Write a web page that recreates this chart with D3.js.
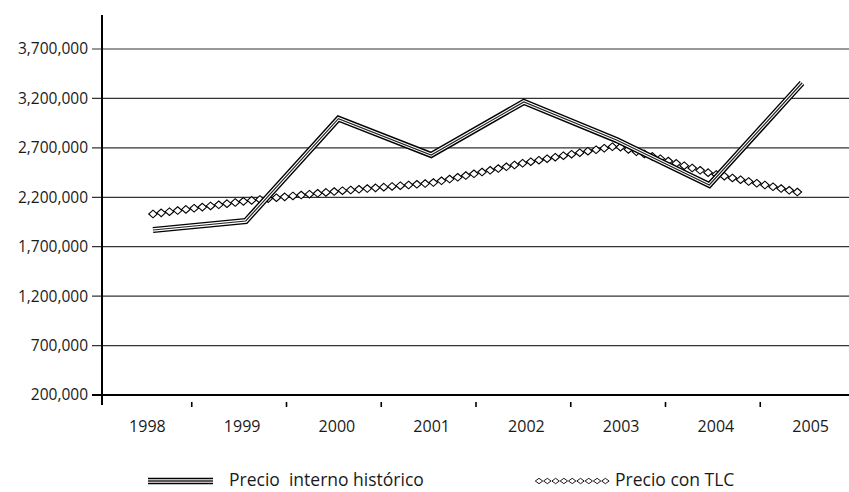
<!DOCTYPE html>
<html>
<head>
<meta charset="utf-8">
<script src="https://cdn.jsdelivr.net/npm/d3@7"></script>
<style>
  html, body { margin: 0; padding: 0; background: #fff; }
  svg { display: block; }
  text { font-family: "Open Sans", "DejaVu Sans", sans-serif; fill: #1a1a1a; }
</style>
</head>
<body>
<svg id="chart" width="849" height="492"></svg>
<script>
const years = ["1998", "1999", "2000", "2001", "2002", "2003", "2004", "2005"];
const precioHistorico = [1869000, 1960000, 2995000, 2628000, 3164000, 2779000, 2324000, 3356000];
const precioTLC = [2031000, 2162000, 2263000, 2344000, 2547000, 2719000, 2446000, 2243000];
const yTicks = [200000, 700000, 1200000, 1700000, 2200000, 2700000, 3200000, 3700000];
const legendLabels = ["Precio  interno histórico", "Precio con TLC"];

const svg = d3.select("#chart");
svg.append("rect").attr("width", 849).attr("height", 492).attr("fill", "#fff");

const y = d3.scaleLinear().domain([200000, 3700000]).range([395, 49]);
const xBand = d3.scaleBand().domain(years).range([100, 858]);
const xPt = d3.scalePoint().domain(years).range([153, 802]);

const fmt = d3.format(",");

// gridlines
svg.append("g").selectAll("line").data(yTicks).join("line")
  .attr("x1", 92).attr("x2", 849)
  .attr("y1", d => y(d)).attr("y2", d => y(d))
  .attr("stroke", d => d === 200000 ? "#000" : "#333")
  .attr("stroke-width", d => d === 200000 ? 2 : 1.2);

// y labels
svg.append("g").selectAll("text").data(yTicks).join("text")
  .attr("x", 88).attr("y", d => y(d)).attr("dy", "0.35em")
  .attr("text-anchor", "end").attr("font-size", 15.5)
  .text(d => fmt(d));

// y axis line
svg.append("line").attr("x1", 102).attr("x2", 102).attr("y1", 15).attr("y2", 405)
  .attr("stroke", "#000").attr("stroke-width", 2);

// x ticks (between categories)
svg.append("g").selectAll("line").data(years.slice(1)).join("line")
  .attr("x1", d => xBand(d) - 3).attr("x2", d => xBand(d) - 3)
  .attr("y1", 402).attr("y2", 407)
  .attr("stroke", "#000").attr("stroke-width", 1.6);

// x labels
svg.append("g").selectAll("text").data(years).join("text")
  .attr("x", d => xBand(d) + xBand.bandwidth() / 2).attr("y", 426).attr("dy", "0.35em")
  .attr("text-anchor", "middle").attr("font-size", 16)
  .text(d => d);

// TLC line: diamonds chained along the path
const lineGen = d3.line().x((d, i) => xPt(years[i])).y(d => y(d));
const tlcPath = svg.append("path").attr("d", lineGen(precioTLC))
  .attr("fill", "none").attr("stroke", "none");
const diamond = "M0,-3.8L4.3,0L0,3.8L-4.3,0Z";
const total = tlcPath.node().getTotalLength();
const step = 8.3;
const tlcPts = d3.range(0, total + 0.01, step).map(l => tlcPath.node().getPointAtLength(l));
svg.append("g").selectAll("path").data(tlcPts).join("path")
  .attr("d", diamond)
  .attr("transform", p => `translate(${p.x},${p.y})`)
  .attr("fill", "#fff").attr("stroke", "#000").attr("stroke-width", 1.1);

// historic line: double line
const histD = lineGen(precioHistorico);
svg.append("path").attr("d", histD).attr("fill", "none").attr("stroke", "#000")
  .attr("stroke-width", 6.2).attr("stroke-linejoin", "miter");
svg.append("path").attr("d", histD).attr("fill", "none").attr("stroke", "#fff")
  .attr("stroke-width", 3.4).attr("stroke-linejoin", "miter");
svg.append("path").attr("d", histD).attr("fill", "none").attr("stroke", "#222")
  .attr("stroke-width", 1.2).attr("stroke-linejoin", "miter");

// legend
const lg = svg.append("g");
const ly = 480;
[["#000", 6.5], ["#fff", 3.6], ["#222", 1.3]].forEach(([c, w]) => {
  lg.append("line").attr("x1", 148).attr("x2", 213).attr("y1", ly + 1).attr("y2", ly + 1)
    .attr("stroke", c).attr("stroke-width", w);
});
lg.append("text").attr("x", 229).attr("y", ly).attr("dy", "0.35em")
  .attr("font-size", 17.5).attr("xml:space", "preserve").style("white-space", "pre")
  .text(legendLabels[0]);

const smallDiamond = "M0,-2.7L3.7,0L0,2.7L-3.7,0Z";
const legDia = d3.range(9).map(i => 539 + i * 8.3);
lg.append("g").selectAll("path").data(legDia).join("path")
  .attr("d", smallDiamond).attr("transform", x => `translate(${x},${ly + 1})`)
  .attr("fill", "#fff").attr("stroke", "#000").attr("stroke-width", 0.9);
lg.append("text").attr("x", 615).attr("y", ly).attr("dy", "0.35em")
  .attr("font-size", 17.5).text(legendLabels[1]);
</script>
</body>
</html>
